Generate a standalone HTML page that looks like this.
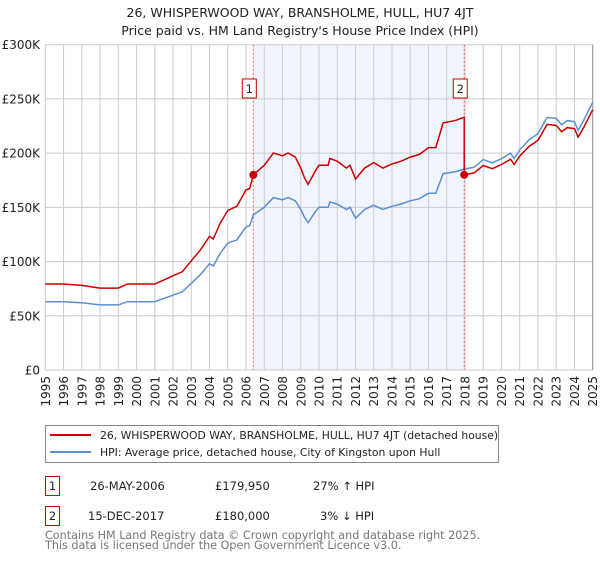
<!DOCTYPE html>
<html><head><meta charset="utf-8"><style>
body{margin:0;background:#fff;font-family:"Liberation Sans","DejaVu Sans",sans-serif;}
svg text{font-family:"DejaVu Sans","Liberation Sans",sans-serif;}
</style></head><body>
<svg id="c" width="600" height="560" viewBox="0 0 600 560" xmlns="http://www.w3.org/2000/svg">
<text x="300" y="17" text-anchor="middle" font-size="12.5" fill="#222">26, WHISPERWOOD WAY, BRANSHOLME, HULL, HU7 4JT</text>
<text x="300" y="35" text-anchor="middle" font-size="12.5" fill="#222">Price paid vs. HM Land Registry's House Price Index (HPI)</text>
<g id="plot"></g>
<g>
<rect x="45.5" y="425.5" width="453" height="37" fill="#fff" stroke="#888"/>
<line x1="50" y1="435" x2="91" y2="435" stroke="#cc0000" stroke-width="2"/>
<text x="100" y="439" font-size="10.8" fill="#222">26, WHISPERWOOD WAY, BRANSHOLME, HULL, HU7 4JT (detached house)</text>
<line x1="50" y1="452" x2="91" y2="452" stroke="#5b8fd1" stroke-width="2"/>
<text x="100" y="456" font-size="10.8" fill="#222">HPI: Average price, detached house, City of Kingston upon Hull</text>
</g>
<g font-size="11.5" fill="#222">
<rect x="45.5" y="476.5" width="14" height="19" fill="#fff" stroke="#cc0000"/>
<text x="52.5" y="490" text-anchor="middle">1</text>
<text x="90" y="490">26-MAY-2006</text>
<text x="215" y="490">£179,950</text>
<text x="313" y="490">27% ↑ HPI</text>
<rect x="45.5" y="506.5" width="14" height="19" fill="#fff" stroke="#cc0000"/>
<text x="52.5" y="520" text-anchor="middle">2</text>
<text x="88" y="520">15-DEC-2017</text>
<text x="215" y="520">£180,000</text>
<text x="320" y="520">3% ↓ HPI</text>
</g>
<text x="45" y="539" font-size="11.2" fill="#777">Contains HM Land Registry data © Crown copyright and database right 2025.</text>
<text x="45" y="549" font-size="11.2" fill="#777">This data is licensed under the Open Government Licence v3.0.</text>
</svg>
<script>
const hpiYears=[1995,1996,1997,1998,1999,1999.5,2000,2001,2001.5,2002,2002.5,2003,2003.5,2004,2004.2,2004.6,2005,2005.5,2006,2006.2,2006.4,2007,2007.5,2008,2008.3,2008.7,2009,2009.2,2009.4,2009.8,2010,2010.5,2010.6,2011,2011.5,2011.7,2012,2012.5,2013,2013.5,2014,2014.5,2015,2015.5,2016,2016.4,2016.8,2017.5,2017.9,2018.5,2019,2019.5,2020,2020.5,2020.7,2021,2021.5,2022,2022.5,2023,2023.3,2023.6,2024,2024.2,2024.5,2025];
const hpiValues=[63,63,62,60,60,63,63,63,66,69,72,80,88,98,96,108,117,120,132,133,143,150,159,157,159,156,148,141,136,146,150,150,155,153,148,150,140,148,152,148,151,153,156,158,163,163,181,183,185,187,194,191,195,200,195,203,212,218,233,232,226,230,229,221,230,247];
const saleYears=[2006.4,2017.96];
const salePrices=[179.95,180];
const yTicks=[0,50,100,150,200,250,300];
const yTickLabels=['£0','£50K','£100K','£150K','£200K','£250K','£300K'];
const xTicks=[1995,1996,1997,1998,1999,2000,2001,2002,2003,2004,2005,2006,2007,2008,2009,2010,2011,2012,2013,2014,2015,2016,2017,2018,2019,2020,2021,2022,2023,2024,2025];

const X0=45.3,X1=592.7,Y0=370,Y1=44.7;
const xs=y=>X0+(y-1995)/30*(X1-X0);
const ys=v=>Y0-v/300*(Y0-Y1);
const NS='http://www.w3.org/2000/svg';
const g=document.getElementById('plot');
function mk(t,a){const e=document.createElementNS(NS,t);for(const k in a)e.setAttribute(k,a[k]);g.appendChild(e);return e;}
function hpiAt(t){for(let i=1;i<hpiYears.length;i++){if(t<=hpiYears[i]){const f=(t-hpiYears[i-1])/(hpiYears[i]-hpiYears[i-1]);return hpiValues[i-1]+f*(hpiValues[i]-hpiValues[i-1]);}}return hpiValues[hpiValues.length-1];}

let sh=mk('rect',{x:xs(saleYears[0]),y:Y1,width:xs(saleYears[1])-xs(saleYears[0]),height:Y0-Y1,fill:'#f0f4fd'});


xTicks.forEach(t=>{
 const l=mk('line',{x1:xs(t),x2:xs(t),y1:Y1,y2:Y0,stroke:'#ccc','stroke-width':1});
 
 
 const tx=mk('text',{x:0,y:0,'font-size':12,fill:'#222','text-anchor':'end',transform:`translate(${xs(t)+4.5},${Y0+6}) rotate(-90)`});
 tx.textContent=t;
 
 
});
yTicks.forEach((v,i)=>{
 const l=mk('line',{x1:X0,x2:X1,y1:ys(v),y2:ys(v),stroke:'#ccc','stroke-width':1});
 
 
 const tx=mk('text',{x:40,y:ys(v)+4.5,'font-size':12,fill:'#222','text-anchor':'end'});
 tx.textContent=yTickLabels[i];
 
 
});
let rb=mk('line',{x1:X1,x2:X1,y1:Y1,y2:Y0,stroke:'#999','stroke-width':1});


saleYears.forEach((s,i)=>{
 const l=mk('line',{x1:xs(s),x2:xs(s),y1:Y1,y2:Y0,stroke:'#f06060','stroke-width':1,'stroke-dasharray':'2,2'});
 
 
 const r=mk('rect',{x:xs(s)-11,y:79,width:14,height:19,fill:'#fff',stroke:'#cc0000'});
 
 
 const t=mk('text',{x:xs(s)-4,y:93,'font-size':11.5,fill:'#222','text-anchor':'middle'});
 t.textContent=i+1;
 
 
});
let d='';hpiYears.forEach((y,i)=>{d+=(i?'L':'M')+xs(y).toFixed(1)+','+ys(hpiValues[i]).toFixed(1);});
let hl=mk('path',{d:d,fill:'none',stroke:'#5b8fd1','stroke-width':1.5});


const r1=salePrices[0]/hpiAt(saleYears[0]),r2=salePrices[1]/hpiAt(saleYears[1]);
let pts=[];
hpiYears.forEach((y,i)=>{if(y<saleYears[1])pts.push([y,hpiValues[i]*r1]);});
pts.push([saleYears[1],hpiAt(saleYears[1])*r1]);
pts.push([saleYears[1],salePrices[1]]);
hpiYears.forEach((y,i)=>{if(y>saleYears[1])pts.push([y,hpiValues[i]*r2]);});
let d2='';pts.forEach((p,i)=>{d2+=(i?'L':'M')+xs(p[0]).toFixed(1)+','+ys(p[1]).toFixed(1);});
let pl=mk('path',{d:d2,fill:'none',stroke:'#cc0000','stroke-width':1.5});


saleYears.forEach((s,i)=>{
 const c=mk('circle',{cx:xs(s),cy:ys(salePrices[i]),r:4,fill:'#cc0000'});
 
 
});
</script>
</body></html>
